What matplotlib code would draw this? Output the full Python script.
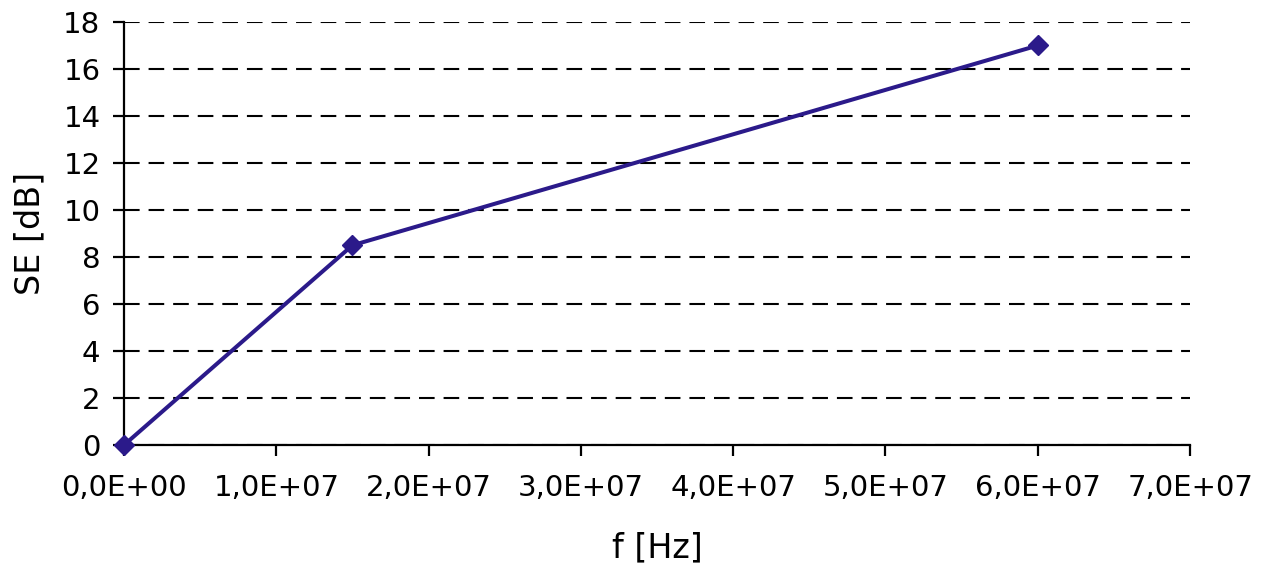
import matplotlib
matplotlib.use("Agg")
import matplotlib.pyplot as plt
from matplotlib.ticker import FuncFormatter, MultipleLocator

# shielding effectiveness vs frequency
freq = [0.0, 1.5e7, 6.0e7]
se_db = [0.0, 8.5, 17.0]

plt.rcParams['font.family'] = ['DejaVu Sans']

fig = plt.figure(figsize=(12.62, 5.64), dpi=100)
ax = fig.add_axes([0.0983, 0.211, 0.8447, 0.75])

ax.plot(freq, se_db, color='#2b1a8a', lw=2.9, marker='D', ms=10, zorder=3, clip_on=False)

ax.set_xlim(0, 7e7)
ax.set_ylim(0, 18)
ax.xaxis.set_major_locator(MultipleLocator(1e7))
ax.yaxis.set_major_locator(MultipleLocator(2))


def sci_comma(v, pos):
    if v == 0:
        return '0,0E+00'
    s = '%.1E' % v
    return s.replace('.', ',')


ax.xaxis.set_major_formatter(FuncFormatter(sci_comma))

ax.yaxis.grid(True, color='black', ls=(0, (7.5, 4.3)), lw=1.5)
ax.set_axisbelow(True)
for side in ('top', 'right'):
    ax.spines[side].set_visible(False)
for side in ('left', 'bottom'):
    ax.spines[side].set_linewidth(1.6)
ax.tick_params(direction='out', length=8, width=1.6, labelsize=21)
ax.tick_params(axis='y', pad=9)
ax.tick_params(axis='x', pad=13)

ax.set_xlabel('f [Hz]', fontsize=24, labelpad=21)
ax.set_ylabel('SE [dB]', fontsize=24, labelpad=12)

fig.savefig('out.png', dpi=100)
